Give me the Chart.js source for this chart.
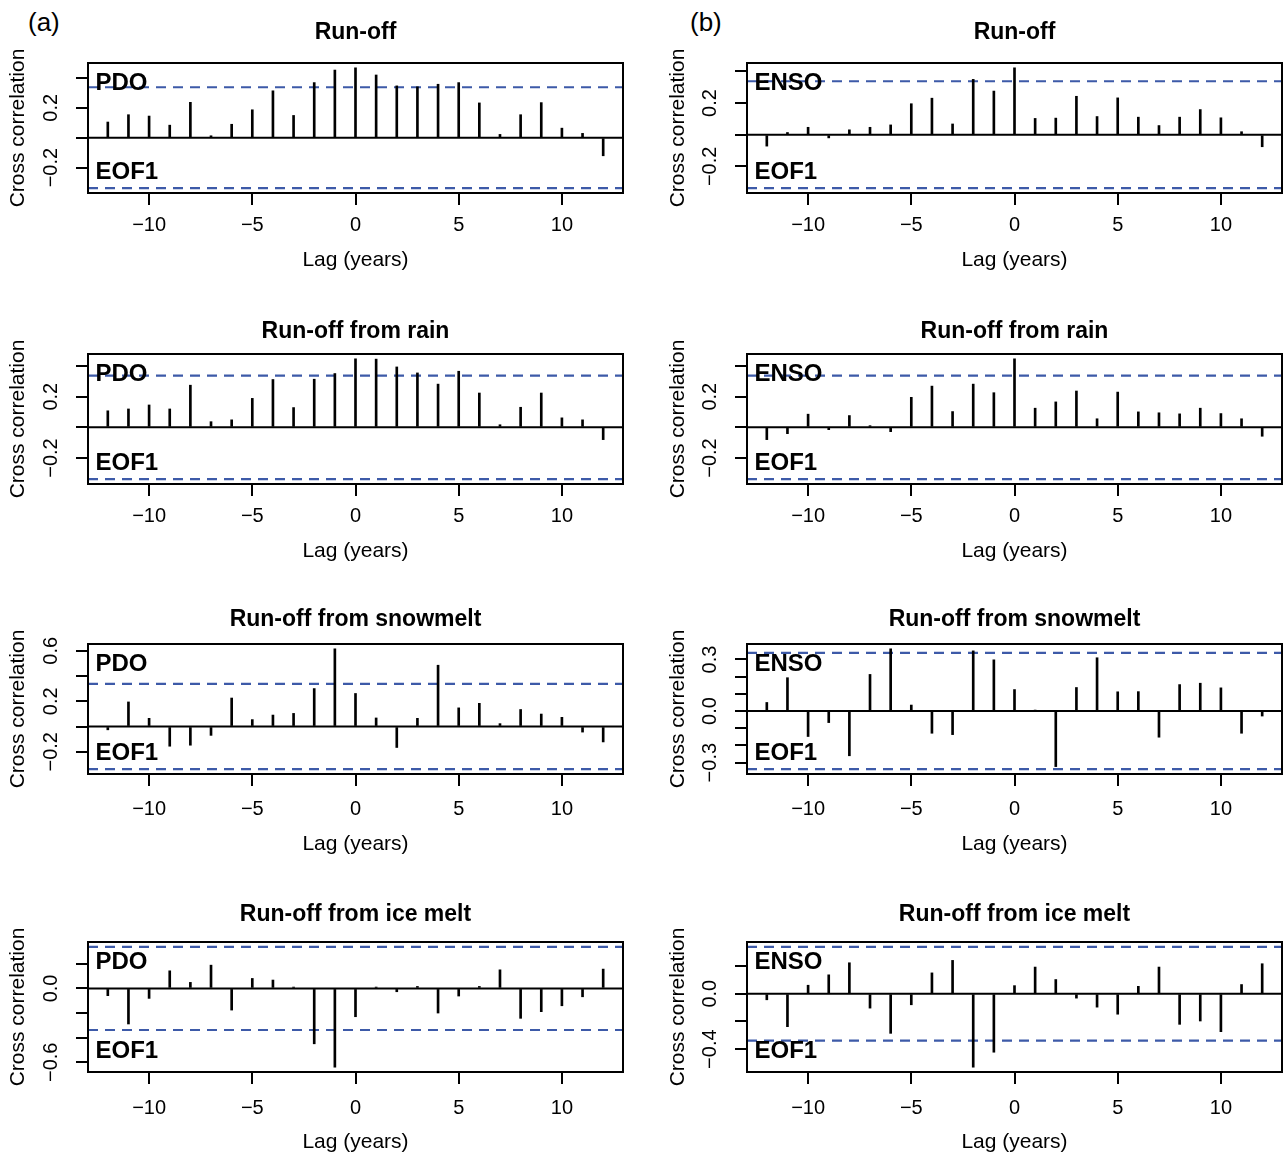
<!DOCTYPE html>
<html>
<head>
<meta charset="utf-8">
<script src="https://cdn.jsdelivr.net/npm/chart.js@4.4.0/dist/chart.umd.min.js"></script>
<style>
  body { margin: 0; background: #fff; width: 1283px; height: 1153px; position: relative; overflow: hidden;
         font-family: "Liberation Sans", Arial, Helvetica, sans-serif; }
  canvas { position: absolute; }
  .tag { position: absolute; font-size: 26px; line-height: 26px; color: #000; }
</style>
</head>
<body>
<div class="tag" style="left:28px;top:9px">(a)</div>
<div class="tag" style="left:690px;top:9px">(b)</div>
<script>
// lags in years
const lags = [-12, -11, -10, -9, -8, -7, -6, -5, -4, -3, -2, -1, 0, 1, 2, 3, 4, 5, 6, 7, 8, 9, 10, 11, 12];

// cross correlations, left column (PDO vs EOF1)
const acfRunoffPDO = [0.105, 0.154, 0.145, 0.084, 0.237, 0.013, 0.09, 0.187, 0.314, 0.149, 0.369, 0.453, 0.468, 0.42, 0.347, 0.341, 0.358, 0.369, 0.233, 0.022, 0.154, 0.235, 0.064, 0.029, -0.121];
const acfRainPDO = [0.108, 0.12, 0.146, 0.12, 0.275, 0.037, 0.049, 0.189, 0.312, 0.129, 0.314, 0.351, 0.447, 0.445, 0.394, 0.355, 0.282, 0.366, 0.224, 0.017, 0.131, 0.224, 0.062, 0.049, -0.08];
const acfSnowPDO = [-0.026, 0.195, 0.065, -0.156, -0.148, -0.07, 0.226, 0.055, 0.091, 0.104, 0.301, 0.616, 0.262, 0.068, -0.166, 0.065, 0.486, 0.148, 0.184, 0.023, 0.135, 0.099, 0.073, -0.044, -0.122];
const acfIcePDO = [-0.059, -0.289, -0.081, 0.143, 0.049, 0.189, -0.176, 0.081, 0.068, 0.011, -0.45, -0.64, -0.23, 0.011, -0.027, 0.016, -0.2, -0.062, 0.016, 0.151, -0.243, -0.189, -0.141, -0.068, 0.157];

// right column (ENSO vs EOF1)
const acfRunoffENSO = [-0.072, 0.014, 0.047, -0.02, 0.031, 0.047, 0.062, 0.196, 0.231, 0.068, 0.35, 0.276, 0.423, 0.103, 0.105, 0.243, 0.115, 0.233, 0.111, 0.058, 0.111, 0.159, 0.107, 0.019, -0.076];
const acfRainENSO = [-0.08, -0.041, 0.086, -0.015, 0.077, 0.011, -0.028, 0.196, 0.269, 0.103, 0.282, 0.226, 0.447, 0.125, 0.166, 0.237, 0.056, 0.23, 0.101, 0.095, 0.088, 0.125, 0.09, 0.056, -0.058];
const acfSnowENSO = [0.05, 0.194, -0.148, -0.067, -0.26, 0.213, 0.362, 0.035, -0.129, -0.137, 0.35, 0.298, 0.125, 0.003, -0.323, 0.137, 0.31, 0.112, 0.113, -0.152, 0.154, 0.162, 0.135, -0.129, -0.029];
const acfIceENSO = [-0.044, -0.238, 0.061, 0.136, 0.223, -0.104, -0.286, -0.08, 0.15, 0.24, -0.53, -0.422, 0.058, 0.192, 0.102, -0.032, -0.097, -0.148, 0.053, 0.192, -0.221, -0.197, -0.274, 0.066, 0.216];

// significance bound (dashed lines at +/-)
const ciLevel = 0.338;

const titles = ["Run-off", "Run-off from rain", "Run-off from snowmelt", "Run-off from ice melt"];
const xTickValues = [-10, -5, 0, 5, 10];
const yTicksSmall = [-0.2, 0, 0.2, 0.4];
const yLabelsSmall = [-0.2, 0.2];
const yTicksSnowPDO = [-0.2, 0, 0.2, 0.4, 0.6];
const yLabelsSnowPDO = [-0.2, 0.2, 0.6];
const yTicksSnowENSO = [-0.3, -0.2, -0.1, 0, 0.1, 0.2, 0.3];
const yLabelsSnowENSO = [-0.3, 0, 0.3];
const yTicksIcePDO = [-0.6, -0.4, -0.2, 0, 0.2];
const yLabelsIcePDO = [-0.6, 0];
const yTicksIceENSO = [-0.4, -0.2, 0, 0.2];
const yLabelsIceENSO = [-0.4, 0];

const family = '"Liberation Sans", Arial, Helvetica, sans-serif';
Chart.defaults.font.family = family;
Chart.defaults.color = '#000';

// per-row layout (the panels in the original are not evenly spaced)
const rowTop = [0, 291, 581, 879];
const titleY = [33, 332, 620, 915];
const xAxisH = [81, 81, 84, 84];
const xTickPad = [8, 8, 11, 12];
const ciColor = '#3d5aa8';

const framePlugin = {
  id: 'frame',
  afterDatasetsDraw(chart, args, opts) {
    const ctx = chart.ctx, a = chart.chartArea;
    ctx.save();
    ctx.strokeStyle = '#000';
    ctx.lineWidth = 2;
    ctx.strokeRect(a.left, a.top, a.right - a.left, a.bottom - a.top);
    ctx.font = 'bold 24px ' + family;
    ctx.fillStyle = '#000';
    ctx.textBaseline = 'middle';
    ctx.textAlign = 'left';
    ctx.fillText(opts.upper, a.left + 7.5, a.top + 20.5);
    ctx.fillText(opts.lower, a.left + 7.5, a.bottom - 20.5);
    ctx.restore();
  }
};

function fmtY(v) {
  return (v < 0 ? '\u2212' : '') + Math.abs(v).toFixed(1);
}
function fmtX(v) {
  return (v < 0 ? '\u2212' : '') + Math.abs(v);
}

function makePanel(col, row, values, index, yTicks, yLabels) {
  const canvas = document.createElement('canvas');
  const w = col == 0 ? 640 : 623;
  canvas.width = w;
  canvas.height = 193 + xAxisH[row];
  canvas.style.left = (col == 0 ? 0 : 660) + 'px';
  canvas.style.top = rowTop[row] + 'px';
  document.body.appendChild(canvas);

  const xMin = lags[0] - 0.04 * (lags[lags.length - 1] - lags[0]);
  const xMax = lags[lags.length - 1] + 0.04 * (lags[lags.length - 1] - lags[0]);
  const lo = Math.min(...values, -ciLevel), hi = Math.max(...values, ciLevel);
  const ext = 0.04 * (hi - lo);

  const tc = titleY[row] - rowTop[row];
  const titlePadTop = tc - 13.8;

  new Chart(canvas, {
    type: 'bar',
    data: {
      datasets: [
        {
          type: 'bar',
          data: lags.map((x, i) => ({ x: x, y: values[i] })),
          backgroundColor: '#000',
          borderWidth: 0,
          barThickness: 2
        },
        {
          type: 'line',
          data: [{ x: xMin, y: 0 }, { x: xMax, y: 0 }],
          borderColor: '#000',
          borderWidth: 2,
          pointRadius: 0
        },
        {
          type: 'line',
          data: [{ x: xMin, y: ciLevel }, { x: xMax, y: ciLevel }],
          borderColor: ciColor,
          borderWidth: 2.2,
          borderDash: [10, 7],
          pointRadius: 0
        },
        {
          type: 'line',
          data: [{ x: xMin, y: -ciLevel }, { x: xMax, y: -ciLevel }],
          borderColor: ciColor,
          borderWidth: 2.2,
          borderDash: [10, 7],
          pointRadius: 0
        }
      ]
    },
    options: {
      responsive: false,
      animation: false,
      devicePixelRatio: 1,
      layout: { padding: { left: 0, right: col == 0 ? 17 : 1, top: 0, bottom: 0 } },
      scales: {
        x: {
          type: 'linear',
          min: xMin,
          max: xMax,
          offset: false,
          afterBuildTicks: s => { s.ticks = xTickValues.map(v => ({ value: v })); },
          afterFit: s => { s.height = xAxisH[row]; },
          ticks: { color: '#000', font: { size: 20 }, padding: xTickPad[row], maxRotation: 0, autoSkip: false, callback: v => fmtX(v) },
          grid: { offset: false, drawOnChartArea: false, drawTicks: true, tickLength: 12, color: '#000', lineWidth: 2 },
          border: { display: false },
          title: { display: true, text: 'Lag (years)', color: '#000', font: { size: 21 }, padding: { top: 0, bottom: 1.5 } }
        },
        y: {
          min: lo - ext,
          max: hi + ext,
          afterBuildTicks: s => { s.ticks = yTicks.map(v => ({ value: v })); },
          afterFit: s => { s.width = col == 0 ? 88 : 87; },
          ticks: {
            color: '#000', font: { size: 20 }, padding: 5, minRotation: 90, maxRotation: 90,
            crossAlign: 'center', autoSkip: false,
            callback: v => yLabels.includes(v) ? fmtY(v) : ''
          },
          grid: { drawOnChartArea: false, drawTicks: true, tickLength: 12, color: '#000', lineWidth: 2 },
          border: { display: false },
          title: { display: true, text: 'Cross correlation', color: '#000', font: { size: 21 }, padding: { top: 5.4, bottom: 0 } }
        }
      },
      plugins: {
        legend: { display: false },
        tooltip: { enabled: false },
        title: {
          display: true,
          text: titles[row],
          fullSize: false,
          color: '#000',
          font: { size: 23, weight: 'bold' },
          padding: { top: titlePadTop, bottom: 63 - 27.6 - titlePadTop }
        },
        frame: { upper: index, lower: 'EOF1' }
      }
    },
    plugins: [framePlugin]
  });
}

makePanel(0, 0, acfRunoffPDO, 'PDO', yTicksSmall, yLabelsSmall);
makePanel(0, 1, acfRainPDO, 'PDO', yTicksSmall, yLabelsSmall);
makePanel(0, 2, acfSnowPDO, 'PDO', yTicksSnowPDO, yLabelsSnowPDO);
makePanel(0, 3, acfIcePDO, 'PDO', yTicksIcePDO, yLabelsIcePDO);
makePanel(1, 0, acfRunoffENSO, 'ENSO', yTicksSmall, yLabelsSmall);
makePanel(1, 1, acfRainENSO, 'ENSO', yTicksSmall, yLabelsSmall);
makePanel(1, 2, acfSnowENSO, 'ENSO', yTicksSnowENSO, yLabelsSnowENSO);
makePanel(1, 3, acfIceENSO, 'ENSO', yTicksIceENSO, yLabelsIceENSO);
</script>
</body>
</html>
